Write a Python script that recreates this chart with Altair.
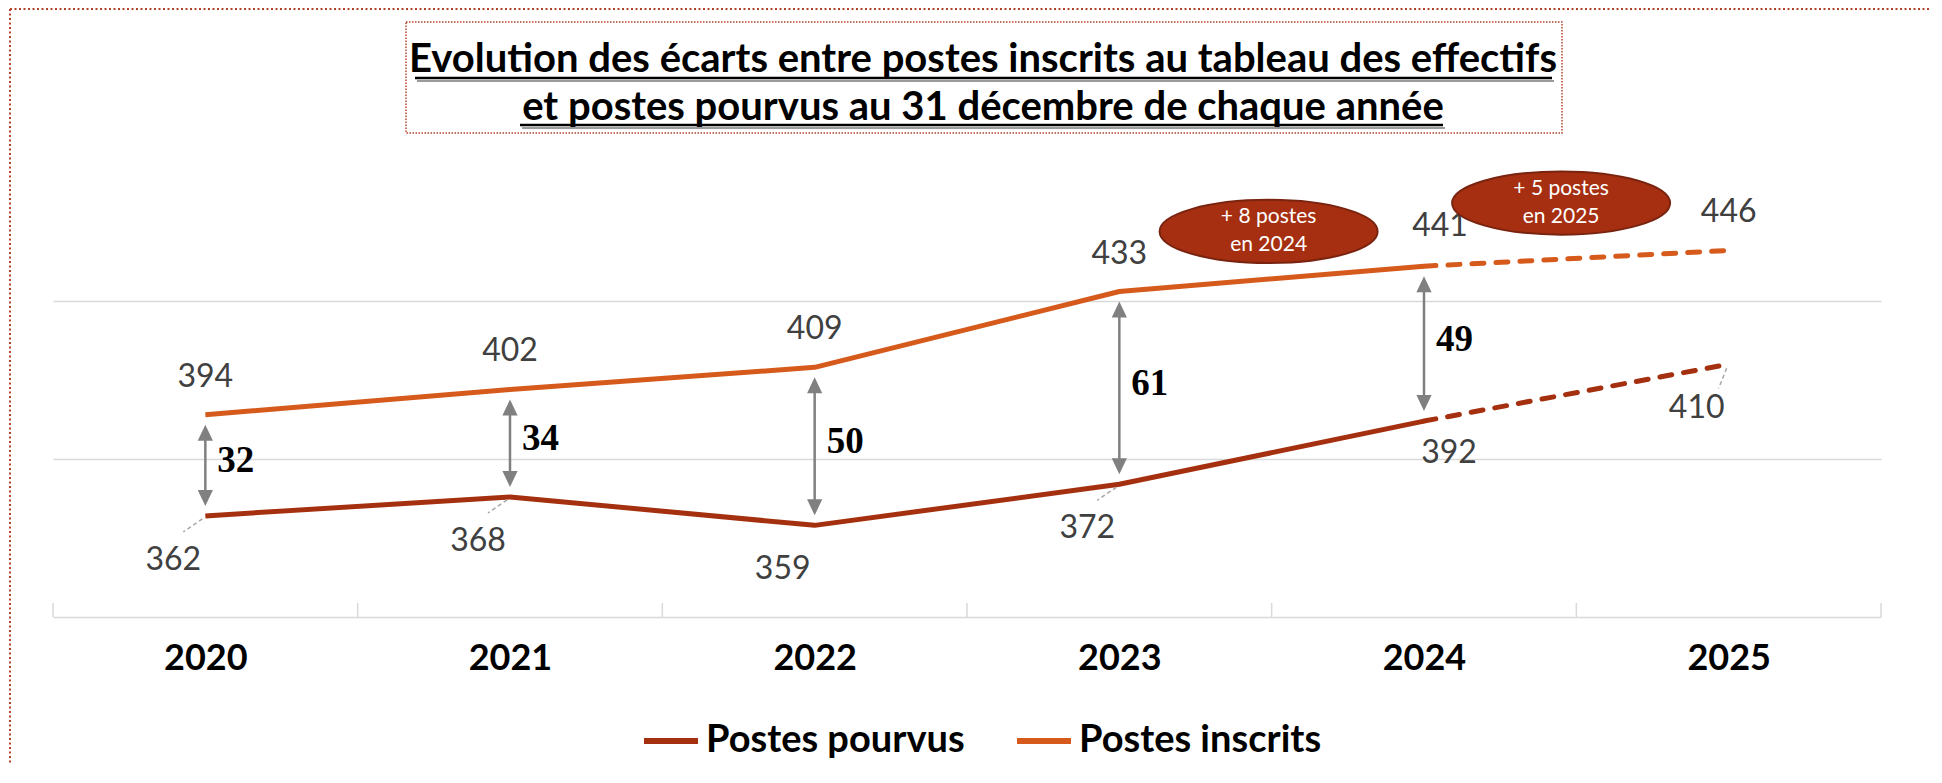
import json
import altair as alt
import pandas as pd

# ---------------- data ----------------
annees = ["2020", "2021", "2022", "2023", "2024", "2025"]
postes_pourvus = [362, 368, 359, 372, 392, 410]
postes_inscrits = [394, 402, 409, 433, 441, 446]
ecarts = [32, 34, 50, 61, 49]
series = ["Postes pourvus", "Postes inscrits"]
bulles_texte = ["+ 8 postes\nen 2024", "+ 5 postes\nen 2025"]
bulles_x = [3.49, 4.45]
bulles_y = [452, 461]
graduations = [380, 430]
titre = [
    "Evolution des écarts entre postes inscrits au tableau des effectifs",
    "et postes pourvus au 31 décembre de chaque année",
]

# ---------------- style ----------------
couleurs = ["#A5300F", "#D55A1B"]
W, H = 1828, 474
PAD = {"left": 45, "top": 135, "right": 50, "bottom": 146}
GRIS = "#D9D9D9"
BORD = "#B5432A"

idx = list(range(len(annees)))
long = pd.DataFrame({
    "i": idx * 2,
    "serie": [series[0]] * len(idx) + [series[1]] * len(idx),
    "valeur": postes_pourvus + postes_inscrits,
})
wide = pd.DataFrame({"i": idx, "pourvus": postes_pourvus, "inscrits": postes_inscrits})
gaps = wide.iloc[: len(ecarts)].assign(ecart=ecarts)
bulles = pd.DataFrame({"x": bulles_x, "y": bulles_y, "t": bulles_texte})
dummy = pd.DataFrame({"k": [0]})
bornes = pd.DataFrame({"b": [v - 0.5 for v in range(len(annees) + 1)]})

xscale = alt.Scale(domain=[-0.5, len(annees) - 0.5], nice=False, zero=False)
yscale = alt.Scale(domain=[330, 480], nice=False, zero=False)

xaxis = alt.Axis(
    values=idx, labelExpr=f"{json.dumps(annees)}[datum.value]", ticks=False, grid=False,
    domainColor=GRIS, domainWidth=1.5, labelFont="Lato", labelFontWeight="bold",
    labelFontSize=36, labelColor="#000000", labelPadding=24, title=None, labelAngle=0,
)
yaxis = alt.Axis(values=graduations, grid=True, gridColor=GRIS, gridWidth=1.5,
                 labels=False, ticks=False, domain=False, title=None)


def X(field="i"):
    return alt.X(f"{field}:Q", scale=xscale, axis=xaxis)


def Y(field="valeur"):
    return alt.Y(f"{field}:Q", scale=yscale, axis=yaxis)


# ---------------- lines ----------------
solid = alt.Chart(long).transform_filter("datum.i <= 4").mark_line(
    strokeWidth=5, strokeJoin="round"
).encode(
    x=X(), y=Y(),
    color=alt.Color("serie:N", scale=alt.Scale(domain=series, range=couleurs),
                    legend=alt.Legend(
                        orient="none", legendX=588, legendY=568, direction="horizontal",
                        title=None, symbolType="stroke", symbolStrokeWidth=6,
                        symbolSize=2916, labelFont="Lato", labelFontWeight="bold",
                        labelFontSize=38, labelColor="#000000", labelOffset=5,
                        columnPadding=40, padding=0, labelLimit=500)),
)

dashed = [
    alt.Chart(long).transform_filter(f"datum.serie == '{s}' && datum.i >= 4").mark_line(
        strokeWidth=5, strokeDash=[12, 12], strokeCap="round", color=c
    ).encode(x=X(), y=Y())
    for s, c in zip(series, couleurs)
]

# boundary ticks
ticks = alt.Chart(bornes).mark_rule(color=GRIS, strokeWidth=1.5).encode(
    x=alt.X("b:Q", scale=xscale, axis=xaxis), y=alt.value(H - 14), y2=alt.value(H)
)

# ---------------- gap arrows ----------------
up = "M0,-1L-0.95,1L0.95,1Z"
down = "M0,1L-0.95,-1L0.95,-1Z"
arr = alt.Chart(gaps).mark_rule(color="#808080", strokeWidth=2.5, yOffset=-14, y2Offset=14).encode(
    x=X(), y=Y("pourvus"), y2="inscrits:Q")
head_top = alt.Chart(gaps).mark_point(shape=up, size=256, filled=True, color="#808080",
                                      opacity=1, yOffset=18).encode(x=X(), y=Y("inscrits"))
head_bot = alt.Chart(gaps).mark_point(shape=down, size=256, filled=True, color="#808080",
                                      opacity=1, yOffset=-18).encode(x=X(), y=Y("pourvus"))
gap_txt = alt.Chart(gaps).transform_calculate(mid="(datum.pourvus + datum.inscrits) / 2").mark_text(
    font="Liberation Serif", fontWeight="bold", fontSize=37, align="left", baseline="middle",
    dx=12, dy=-4, color="#000000").encode(x=X(), y=Y("mid"), text="ecart:Q")

# ---------------- value labels ----------------
lab = dict(font="Lato", fontSize=32, color="#404040", baseline="middle", align="center")
ins = long[long.serie == series[1]]
pou = long[long.serie == series[0]]
lab_ins = alt.Chart(ins).transform_filter("datum.i != 4").mark_text(dy=-38, **lab).encode(
    x=X(), y=Y(), text="valeur:Q")
lab_ins4 = alt.Chart(ins).transform_filter("datum.i == 4").mark_text(dx=16, dy=-40, **lab).encode(
    x=X(), y=Y(), text="valeur:Q")
lab_pou = alt.Chart(pou).transform_filter("datum.i != 4").mark_text(dx=-32, dy=44, **lab).encode(
    x=X(), y=Y(), text="valeur:Q")
lab_pou4 = alt.Chart(pou).transform_filter("datum.i == 4").mark_text(dx=25, dy=32, **lab).encode(
    x=X(), y=Y(), text="valeur:Q")
lead = alt.Chart(pou).transform_filter("datum.i == 0 || datum.i == 1 || datum.i == 3").mark_rule(
    color="#A6A6A6", strokeWidth=1.5, strokeDash=[4, 3], xOffset=-3, yOffset=3,
    x2Offset=-22, y2Offset=16).encode(x=X(), x2="i:Q", y=Y(), y2="valeur:Q")
lead5 = alt.Chart(pou).transform_filter("datum.i == 5").mark_rule(
    color="#A6A6A6", strokeWidth=1.5, strokeDash=[4, 3], xOffset=-2, yOffset=4,
    x2Offset=-10, y2Offset=24).encode(x=X(), x2="i:Q", y=Y(), y2="valeur:Q")

# ---------------- bubbles ----------------
k = 0.5523
ry = 0.29
ell = (f"M-1,0C-1,{-ry*k:.4f} {-k:.4f},{-ry} 0,{-ry}C{k:.4f},{-ry} 1,{-ry*k:.4f} 1,0"
       f"C1,{ry*k:.4f} {k:.4f},{ry} 0,{ry}C{-k:.4f},{ry} -1,{ry*k:.4f} -1,0Z")
bub = alt.Chart(bulles).mark_point(shape=ell, size=218 * 218, filled=True, fill="#A52F10",
                                   stroke="#7A2410", strokeWidth=2, opacity=1).encode(
    x=X("x"), y=Y("y"))
bub_t = alt.Chart(bulles).mark_text(font="Lato", fontSize=21, color="white", lineBreak="\n",
                                    lineHeight=28, baseline="middle", align="center",
                                    dy=-14).encode(
    x=X("x"), y=Y("y"), text="t:N")

# ---------------- title & frame ----------------
d = alt.Chart(dummy)
frame_top = d.mark_rule(color=BORD, strokeWidth=2, strokeDash=[2, 2.5]).encode(
    x=alt.value(-43), x2=alt.value(W + PAD["right"]), y=alt.value(-PAD["top"] + 1))
frame_left = d.mark_rule(color=BORD, strokeWidth=2, strokeDash=[2, 2.5]).encode(
    x=alt.value(-43), y=alt.value(-PAD["top"] + 1), y2=alt.value(H + PAD["bottom"]))
tbox = d.mark_rect(fillOpacity=0, stroke=BORD, strokeWidth=1.5, strokeDash=[1.5, 1.5]).encode(
    x=alt.value(353), x2=alt.value(1509), y=alt.value(-121), y2=alt.value(-10))
tstyle = dict(font="Lato", fontWeight="bold", fontSize=40, align="center",
              baseline="alphabetic", color="#000000")
t1 = d.mark_text(**tstyle).encode(x=alt.value(930), y=alt.value(-71), text=alt.value(titre[0]))
t2 = d.mark_text(**tstyle).encode(x=alt.value(930), y=alt.value(-23), text=alt.value(titre[1]))
u1s = d.mark_rule(color="#9A9A9A", strokeWidth=2).encode(
    x=alt.value(364), x2=alt.value(1501), y=alt.value(-62))
u1 = d.mark_rule(color="#000000", strokeWidth=2.5).encode(
    x=alt.value(362), x2=alt.value(1499), y=alt.value(-65))
u2s = d.mark_rule(color="#9A9A9A", strokeWidth=2).encode(
    x=alt.value(469), x2=alt.value(1392), y=alt.value(-15))
u2 = d.mark_rule(color="#000000", strokeWidth=2.5).encode(
    x=alt.value(467), x2=alt.value(1390), y=alt.value(-18))

chart = alt.layer(
    ticks, solid, *dashed, arr, head_top, head_bot, gap_txt,
    lead, lead5, lab_ins, lab_ins4, lab_pou, lab_pou4, bub, bub_t,
    frame_top, frame_left, tbox, u1s, u1, u2s, u2, t1, t2,
).properties(
    width=W, height=H, padding=PAD, autosize=alt.AutoSizeParams(type="none"),
    background="white",
).configure_view(stroke=None)

chart.save("out.html", embed_options={"renderer": "svg", "actions": False})
